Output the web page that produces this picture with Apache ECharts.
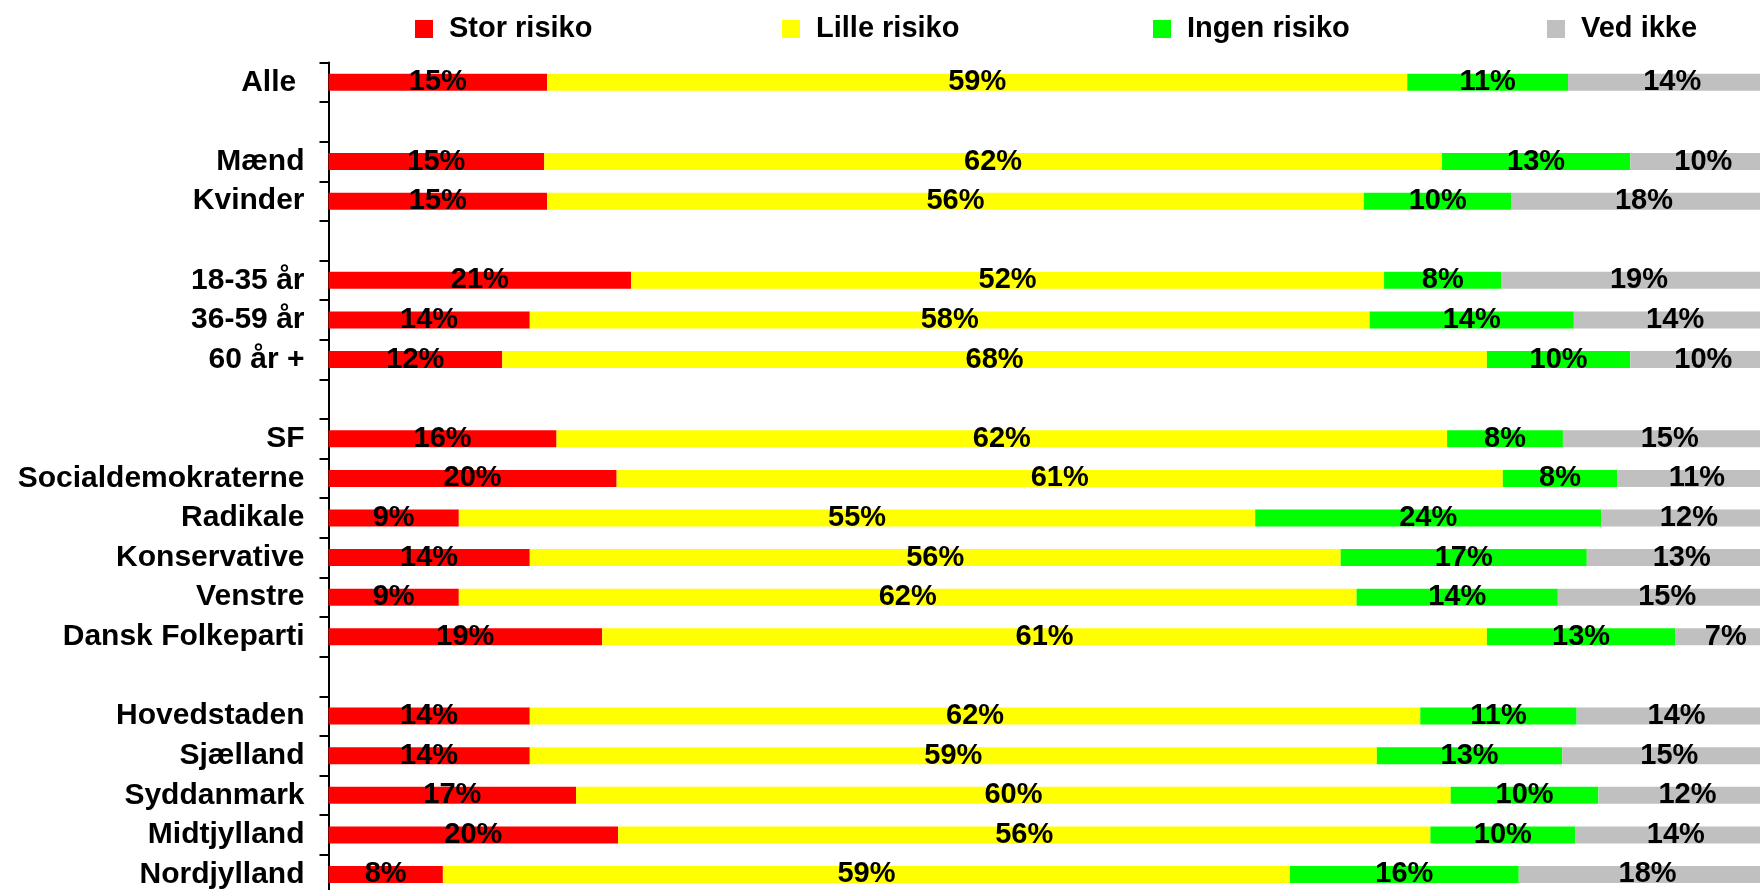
<!DOCTYPE html>
<html>
<head>
<meta charset="utf-8">
<script src="https://cdn.jsdelivr.net/npm/echarts@6/dist/echarts.min.js"></script>
<style>
html,body{margin:0;padding:0;background:#fff;}
#chart{width:1760px;height:890px;}
</style>
</head>
<body>
<div id="chart"></div>
<script>
const categories = ['Alle ', ' ', 'Mænd', 'Kvinder', '  ', '18-35 år', '36-59 år', '60 år +', '   ',
  'SF', 'Socialdemokraterne', 'Radikale', 'Konservative', 'Venstre', 'Dansk Folkeparti', '    ',
  'Hovedstaden', 'Sjælland', 'Syddanmark', 'Midtjylland', 'Nordjylland'];
const seriesNames = ['Stor risiko', 'Lille risiko', 'Ingen risiko', 'Ved ikke'];
// Estimated underlying percentages (labels show them rounded)
const storRisiko  = [15.1, null, 14.9, 15.1, null, 20.9, 13.9, 12.0, null, 15.75, 19.9, 9.0, 13.9, 9.0, 18.9, null, 13.9, 13.9, 17.1, 20.0, 7.9];
const lilleRisiko = [59.4, null, 62.0, 56.4, null, 52.0, 58.0, 68.0, null, 61.5, 61.2, 55.0, 56.0, 62.0, 61.1, null, 61.5, 58.5, 60.4, 56.1, 58.5];
const ingenRisiko = [11.1, null, 13.0, 10.2, null, 8.1, 14.1, 9.9, null, 8.0, 7.9, 23.9, 17.0, 13.9, 13.0, null, 10.8, 12.8, 10.2, 10.0, 15.8];
const vedIkke     = [14.4, null, 10.1, 18.3, null, 19.0, 14.0, 10.1, null, 14.8, 11.0, 12.1, 13.1, 15.1, 7.0, null, 13.8, 14.8, 12.3, 13.9, 17.8];
const colors = ['#FF0000', '#FFFF00', '#00FF00', '#C0C0C0'];
const legendLefts = [410, 777, 1148, 1542];

const FONT = '"Liberation Sans", Arial, sans-serif';
const chart = echarts.init(document.getElementById('chart'), null, {renderer: 'canvas'});

const allData = [storRisiko, lilleRisiko, ingenRisiko, vedIkke];
const series = seriesNames.map((name, i) => ({
  name: name,
  type: 'bar',
  stack: 'total',
  barWidth: 17,
  data: allData[i],
  itemStyle: {color: colors[i]},
  label: {
    show: true,
    position: 'inside',
    formatter: p => (p.value == null ? '' : Math.round(p.value) + '%'),
    color: '#000',
    fontFamily: FONT,
    fontWeight: 'bold',
    fontSize: 29,
    textBorderWidth: 0
  },
  emphasis: {disabled: true},
  animation: false
}));

const legends = seriesNames.map((name, i) => ({
  data: [name],
  left: legendLefts[i],
  top: 9.5,
  itemWidth: 18,
  itemHeight: 18,
  icon: 'rect',
  selectedMode: false,
  textStyle: {
    fontFamily: FONT,
    fontWeight: 'bold',
    fontSize: 29,
    color: '#000',
    padding: [0, 0, 0, 11]
  }
}));

chart.setOption({
  backgroundColor: '#fff',
  animation: false,
  color: colors,
  legend: legends,
  grid: {left: 328.5, width: 1448, top: 62.5, height: 831.8, containLabel: false, outerBoundsMode: 'none'},
  xAxis: {
    type: 'value',
    min: 0,
    max: 100,
    show: false
  },
  yAxis: {
    type: 'category',
    data: categories,
    inverse: true,
    axisLine: {show: true, lineStyle: {color: '#000', width: 2}},
    axisTick: {show: true, length: 9, lineStyle: {color: '#000', width: 2}},
    axisLabel: {
      margin: 24,
      color: '#000',
      fontFamily: FONT,
      fontWeight: 'bold',
      fontSize: 30,
      interval: 0
    },
    splitLine: {show: false}
  },
  series: series
});
</script>
</body>
</html>
